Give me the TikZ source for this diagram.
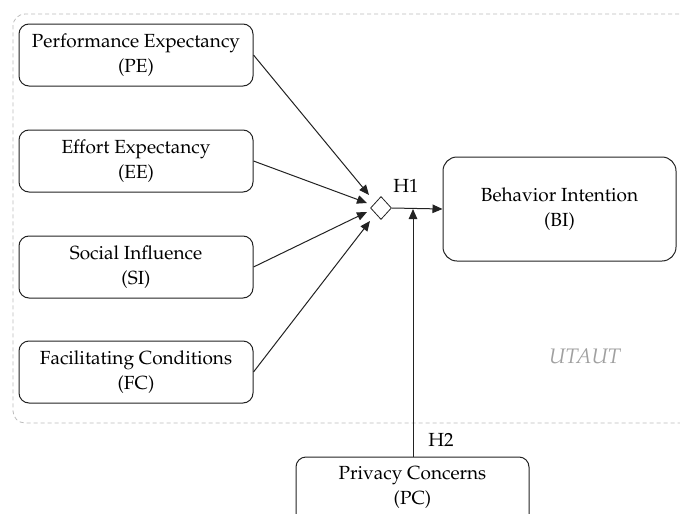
\documentclass[tikz,border=0pt]{standalone}
\usepackage[T1]{fontenc}
\usepackage{mathpazo}
\usetikzlibrary{shapes.geometric,arrows.meta}
\definecolor{linegray}{HTML}{222222}
\definecolor{dashgray}{HTML}{BBBBBB}
\definecolor{labgray}{HTML}{A0A0A0}
\tikzset{
  cbox/.style={draw=linegray, line width=1pt, rounded corners=10pt, minimum width=234pt, minimum height=62pt, align=center, inner sep=2pt, font=\fontsize{19}{25}\selectfont},
  conn/.style={draw=linegray, line width=1pt, -{Triangle[length=10pt,width=8.5pt]}},
  hlab/.style={font=\fontsize{19}{22}\selectfont},
}
\begin{document}
\begin{tikzpicture}[x=1pt,y=-1pt]
\useasboundingbox (0,0) rectangle (680,514);
\begin{scope}
\clip (0,0) rectangle (680,514);
\draw[dashgray, line width=0.8pt, dash pattern=on 4pt off 3pt, rounded corners=12pt] (700,14) -- (13,14) -- (13,423) -- (700,423);
\node[cbox] (pe) at (136,55) {Performance Expectancy\\(PE)};
\node[cbox] (ee) at (136,161) {Effort Expectancy\\(EE)};
\node[cbox] (si) at (136,267) {Social Influence\\(SI)};
\node[cbox] (fc) at (136,372) {Facilitating Conditions\\(FC)};
\node[cbox, minimum width=233pt, minimum height=104pt, rounded corners=14pt] (bi) at (559.5,209) {Behavior Intention\\(BI)};
\node[cbox, minimum width=233pt, minimum height=80pt] (pc) at (412.5,497) {};
\node[font=\fontsize{19}{25}\selectfont, align=center] (pct) at (412.5,487) {Privacy Concerns\\(PC)};
\node[draw=linegray, line width=0.8pt, diamond, minimum width=21pt, minimum height=23pt, inner sep=0pt] (d) at (381,208) {};
\coordinate (tpe) at (369,195);
\coordinate (tee) at (367,203);
\coordinate (tsi) at (367,212);
\coordinate (tfc) at (370,221);
\draw[conn] (pe.east) -- (tpe);
\draw[conn] (ee.east) -- (tee);
\draw[conn] (si.east) -- (tsi);
\draw[conn] (fc.east) -- (tfc);
\draw[conn] (d.east) -- (bi.west);
\coordinate (j) at (413,209);
\draw[conn] (pc.north -| j) -- (j);
\node[hlab] (h1) at (406,186) {H1};
\node[hlab] (h2) at (441,440) {H2};
\node[font=\fontsize{21}{24}\selectfont\itshape, text=labgray] (ut) at (585,356) {UTAUT};
\end{scope}
\end{tikzpicture}
\end{document}
